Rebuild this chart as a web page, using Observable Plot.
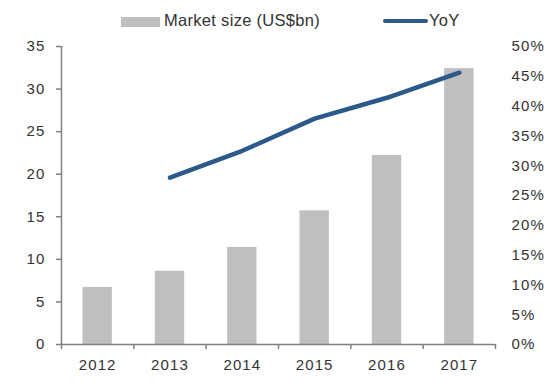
<!DOCTYPE html>
<html>
<head>
<meta charset="utf-8">
<script src="https://cdn.jsdelivr.net/npm/d3@7"></script>
<script src="https://cdn.jsdelivr.net/npm/@observablehq/plot@0.6"></script>
<style>
  body { margin: 0; background: #fff; font-family: "Liberation Sans", Arial, sans-serif; color: #333; }
  #legend { position: relative; width: 550px; height: 38px; }
  #legend .sw { position: absolute; }
  #legend .lb { position: absolute; font-size: 16.5px; letter-spacing: 0.3px; line-height: 1; }
  svg text { letter-spacing: 1.1px; }
</style>
</head>
<body>
<div id="legend">
  <div class="sw" style="left:121px;top:17px;width:39px;height:10px;background:#bfbfbf;"></div>
  <div class="lb" style="left:164px;top:12px;">Market size (US$bn)</div>
  <div class="sw" style="left:383px;top:19px;width:45px;height:4px;border-radius:2px;background:#2b5a8a;"></div>
  <div class="lb" style="left:429px;top:12px;">YoY</div>
</div>
<div id="chart"></div>
<script>
const years = [2012, 2013, 2014, 2015, 2016, 2017];
const marketSize = [6.7, 8.6, 11.4, 15.7, 22.2, 32.4];
const yoyYears = [2013, 2014, 2015, 2016, 2017];
const yoy = [28.0, 32.5, 37.9, 41.4, 45.6];
const leftTicks = [0, 5, 10, 15, 20, 25, 30, 35];
const rightTicks = [0, 5, 10, 15, 20, 25, 30, 35, 40, 45, 50];

const leftMax = 35, rightMax = 50;
const k = leftMax / rightMax;

const bars = years.map((y, i) => ({year: y, value: marketSize[i]}));
const line = yoyYears.map((y, i) => ({year: y, pct: yoy[i]}));
const bounds = [years[0] - 0.5, ...years.map(y => y + 0.5)];
const halfW = 0.203;
const axisColor = "#808080";

const chart = Plot.plot({
  width: 550,
  height: 350,
  marginLeft: 61,
  marginRight: 55,
  marginTop: 8,
  marginBottom: 44,
  style: {fontFamily: "'Liberation Sans', Arial, sans-serif", fontSize: "15px", color: "#333"},
  x: {domain: [years[0] - 0.5, years[years.length - 1] + 0.5]},
  y: {domain: [0, leftMax]},
  marks: [
    Plot.rectY(bars, {x1: d => d.year - halfW, x2: d => d.year + halfW, y: "value", fill: "#bfbfbf"}),
    Plot.ruleY([0], {stroke: axisColor, strokeWidth: 1.5}),
    Plot.ruleX([bounds[0]], {y1: 0, y2: leftMax, stroke: axisColor, strokeWidth: 1.5}),
    Plot.axisY({ticks: leftTicks, tickSize: 5, tickPadding: 11, stroke: axisColor, strokeWidth: 1.5, label: null, fill: "#333"}),
    Plot.axisY({anchor: "right", ticks: rightTicks.map(v => v * k), tickSize: 0, tickPadding: 16, tickFormat: d => Math.round(d / k) + "%", label: null, fill: "#333", textAnchor: "start"}),
    Plot.axisX({ticks: bounds, tickSize: 5, tickFormat: () => "", stroke: axisColor, strokeWidth: 1.5, label: null}),
    Plot.axisX({ticks: years, tickSize: 0, tickPadding: 15, tickFormat: d => String(d), label: null, fill: "#333"}),
    Plot.line(line, {x: "year", y: d => d.pct * k, stroke: "#2b5a8a", strokeWidth: 4.5, strokeLinecap: "round", strokeLinejoin: "round", curve: "linear"})
  ]
});
document.getElementById("chart").appendChild(chart);
</script>
</body>
</html>
